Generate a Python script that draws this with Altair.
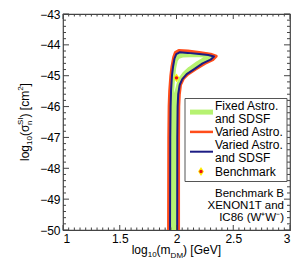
import altair as alt
import pandas as pd
import numpy as np

# ---------------- data ----------------
# Fixed Astro. and SDSF (light green band)
fixed_x = [1.952, 1.953, 1.955, 1.958, 1.965, 1.975, 1.990, 2.010, 2.050, 2.120, 2.200, 2.270,
           2.300, 2.260, 2.190, 2.120, 2.070, 2.040, 2.020, 2.000, 1.995, 1.992, 1.991]
fixed_y = [-50.0, -47.0, -46.0, -45.5, -45.1, -44.75, -44.5, -44.38, -44.33, -44.32, -44.32, -44.33,
           -44.36, -44.45, -44.60, -44.78, -44.95, -45.10, -45.30, -45.60, -46.0, -47.0, -50.0]

# Varied Astro. (orange-red)
varied_x = [1.930, 1.932, 1.935, 1.940, 1.950, 1.960, 1.975, 1.990, 2.020, 2.100, 2.200, 2.300,
            2.350, 2.320, 2.250, 2.170, 2.100, 2.060, 2.035, 2.025, 2.020, 2.018, 2.018]
varied_y = [-50.0, -47.0, -46.0, -45.5, -45.0, -44.7, -44.4, -44.25, -44.18, -44.20, -44.25, -44.30,
            -44.37, -44.48, -44.60, -44.78, -44.95, -45.10, -45.30, -45.60, -46.0, -47.0, -50.0]

# Varied Astro. and SDSF (navy)
vsdsf_x = [1.943, 1.945, 1.948, 1.952, 1.960, 1.970, 1.982, 1.998, 2.030, 2.100, 2.200, 2.280,
           2.330, 2.300, 2.230, 2.160, 2.090, 2.050, 2.028, 2.015, 2.010, 2.007, 2.006]
vsdsf_y = [-50.0, -47.0, -46.0, -45.5, -45.0, -44.7, -44.45, -44.30, -44.24, -44.26, -44.30, -44.33,
           -44.38, -44.48, -44.60, -44.78, -44.95, -45.12, -45.30, -45.60, -46.0, -47.0, -50.0]

bench_x = [2.0]
bench_y = [-45.07]

x_ticks = [1, 1.5, 2, 2.5, 3]
y_ticks = [-43, -44, -45, -46, -47, -48, -49, -50]

legend_labels = ["Fixed Astro.", "and SDSF", "Varied Astro.", "Varied Astro.", "and SDSF", "Benchmark"]
note_lines = ["Benchmark B", "XENON1T and", "IC86 (W\u207aW\u207b)"]

GREEN = "#b6f271"
ORANGE = "#ff4d1a"
NAVY = "#1c1c84"
FRAME = "#444444"
FONT = "Liberation Sans"

W, H = 227, 216

xs = alt.Scale(domain=[1, 3], nice=False, zero=False)
ys = alt.Scale(domain=[-50, -43], nice=False, zero=False)

XAX = alt.Axis(values=x_ticks, format="~g", title=None, ticks=False, domain=False, grid=False,
               labelPadding=3, labelFontSize=12, labelFont=FONT, labelColor="black")
YAX = alt.Axis(values=y_ticks, format="d", title=None, ticks=False, domain=False, grid=False,
               labelPadding=3, labelFontSize=12, labelFont=FONT, labelColor="black")


def X(f):
    return alt.X(f, scale=xs, axis=XAX)


def Y(f):
    return alt.Y(f, scale=ys, axis=YAX)


def series_df(xv, yv):
    return pd.DataFrame({"x": xv, "y": yv, "i": list(range(len(xv)))})


def contour(xv, yv, color, width):
    return alt.Chart(series_df(xv, yv)).mark_line(
        color=color, strokeWidth=width, strokeJoin="round", strokeCap="butt"
    ).encode(x=X("x:Q"), y=Y("y:Q"), order=alt.Order("i:Q"))


one = alt.Data(values=[{"a": 1}])


def txt(text, x, y, size=12, align="left", baseline="alphabetic", angle=0):
    kw = dict(text=text, align=align, baseline=baseline, fontSize=size, font=FONT, color="black")
    if angle:
        kw["angle"] = angle
    return alt.Chart(one).mark_text(**kw).encode(x=alt.value(x), y=alt.value(y))


x_minor = [float(v) for v in np.round(np.arange(1.0, 3.0001, 0.05), 2) if v not in x_ticks]
y_minor = [float(v) for v in np.round(np.arange(-50.0, -42.9999, 0.2), 1) if v not in y_ticks]


def tick_layer(values, orient, length):
    df = pd.DataFrame({"v": values})
    m = alt.Chart(df).mark_rule(color=FRAME, strokeWidth=1)
    if orient == "bottom":
        return m.encode(x=X("v:Q"), y=alt.value(H), y2=alt.value(H - length))
    if orient == "top":
        return m.encode(x=X("v:Q"), y=alt.value(0), y2=alt.value(length))
    if orient == "left":
        return m.encode(y=Y("v:Q"), x=alt.value(0), x2=alt.value(length))
    return m.encode(y=Y("v:Q"), x=alt.value(W), x2=alt.value(W - length))


ticks = []
for o in ["bottom", "top"]:
    ticks.append(tick_layer(x_ticks, o, 5))
    ticks.append(tick_layer(x_minor, o, 2.5))
for o in ["left", "right"]:
    ticks.append(tick_layer(y_ticks, o, 6))
    ticks.append(tick_layer(y_minor, o, 3))

diamond = "M0,-1L0.65,0L0,1L-0.65,0Z"

bench_df = pd.DataFrame({"x": bench_x, "y": bench_y})
bench_d = alt.Chart(bench_df).mark_point(shape=diamond, filled=True, color="#ffee00", size=80, opacity=1).encode(
    x=X("x:Q"), y=Y("y:Q"))
bench_c = alt.Chart(bench_df).mark_point(shape="circle", filled=True, color="#e8101a", size=12, opacity=1).encode(
    x=X("x:Q"), y=Y("y:Q"))

# legend
leg_box = alt.Chart(one).mark_rect(fill="white", stroke="#555555", strokeWidth=1).encode(
    x=alt.value(122), x2=alt.value(224), y=alt.value(84.5), y2=alt.value(167.5))


def leg_line(y, color, width):
    return alt.Chart(one).mark_rule(color=color, strokeWidth=width).encode(
        x=alt.value(127), x2=alt.value(150), y=alt.value(y))


LY = [91.5, 104.7, 117.9, 131.1, 144.3, 157.5]
leg_items = [leg_box,
             leg_line(98.1, GREEN, 5), leg_line(117.9, ORANGE, 2.5), leg_line(137.7, NAVY, 2),
             alt.Chart(one).mark_point(shape=diamond, filled=True, color="#ffee00", size=80, opacity=1).encode(
                 x=alt.value(138), y=alt.value(LY[5])),
             alt.Chart(one).mark_point(shape="circle", filled=True, color="#e8101a", size=12, opacity=1).encode(
                 x=alt.value(138), y=alt.value(LY[5]))]
for lab, yy in zip(legend_labels, LY):
    leg_items.append(txt(lab, 152, yy, baseline="middle"))

notes = [txt(t, 221, yy, size=11.5, align="right", baseline="middle")
         for t, yy in zip(note_lines, [180, 192, 204])]

# axis titles with sub/superscripts
TB = 240
xt = [txt("log", 68.7, TB), txt("10", 84.7, TB + 3, size=8), txt("(m", 93.6, TB),
      txt("DM", 107.6, TB + 3.5, size=8), txt(") [GeV]", 120.0, TB)]
yt = [txt("log", -34, 147, angle=270), txt("10", -31, 131, size=8, angle=270),
      txt("(\u03c3", -34, 122.1, angle=270), txt("n", -31, 111.1, size=8, angle=270),
      txt("SI", -40, 111.1, size=8, angle=270), txt(") [cm", -34, 103.5, angle=270),
      txt("2", -40, 76.8, size=8, angle=270), txt("]", -34, 72.4, angle=270)]

layers = [contour(fixed_x, fixed_y, GREEN, 5),
          contour(varied_x, varied_y, ORANGE, 3),
          contour(vsdsf_x, vsdsf_y, NAVY, 2),
          bench_d, bench_c] + ticks + leg_items + notes + xt + yt

chart = alt.layer(*layers).properties(
    width=W, height=H,
    autosize=alt.AutoSizeParams(type="none"),
    padding={"left": 55, "top": 6, "right": 1, "bottom": 28},
).configure_view(stroke=FRAME, strokeWidth=1.2)

chart.save("out.html", embed_options={"renderer": "svg", "actions": False})
